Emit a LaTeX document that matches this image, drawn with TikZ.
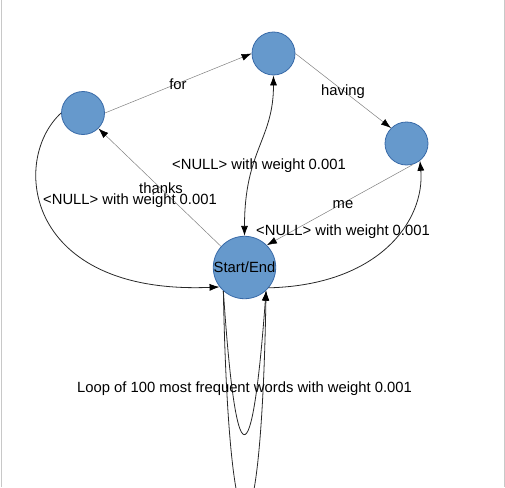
\documentclass[tikz,border=0pt]{standalone}
\usepackage{fontspec}
\setmainfont{Liberation Sans}
\usetikzlibrary{arrows.meta}
\definecolor{nodefill}{RGB}{102,153,204}
\definecolor{nodeline}{RGB}{56,106,168}
\definecolor{wordline}{RGB}{128,128,128}
\definecolor{nullline}{RGB}{40,40,40}
\definecolor{frameline}{RGB}{200,200,200}
\begin{document}
\begin{tikzpicture}[x=1pt,y=1pt,
  state/.style={circle, fill=nodefill, draw=nodeline, line width=0.8pt, minimum size=43pt, inner sep=0pt},
  startstate/.style={state, minimum size=57pt},
  tip/.style={Latex[length=10pt,width=7pt,color=black]},
  wordedge/.style={draw=wordline, line width=0.5pt, -{Latex[length=10pt,width=7pt,color=black]}},
  nulledge/.style={draw=nullline, line width=0.8pt, -{Latex[length=10pt,width=7pt,color=black]}},
  lbl/.style={font=\fontsize{14.8}{17}\selectfont, inner sep=0pt},
  framestyle/.style={draw=frameline, line width=1pt}]
\useasboundingbox (0,0) rectangle (505,-487);
% frame edges
\coordinate (fl1) at (1,0);
\coordinate (fl2) at (1,-487);
\coordinate (fr1) at (504,0);
\coordinate (fr2) at (504,-487);
\draw[framestyle] (fl1) -- (fl2);
\draw[framestyle] (fr1) -- (fr2);
% states
\node[state] (A) at (83,-113) {};
\node[state] (B) at (273.5,-53.5) {};
\node[state] (C) at (406.5,-143.5) {};
\node[startstate, font=\fontsize{14.8}{17}\selectfont] (S) at (244.5,-267.5) {Start/End};
% word edges
\draw[wordedge] (A.east) -- (B.west);
\draw[wordedge] (B.east) -- (C.135);
\draw[wordedge] (C.-72) -- (S.45);
\draw[wordedge] (S.138) -- (A.-45);
% null edges
\draw[nulledge, {Latex[length=10pt,width=7pt,color=black]}-{Latex[length=10pt,width=7pt,color=black]}]
  (B.south) .. controls (273.5,-140) and (244.5,-150) .. (S.north);
\draw[nulledge] (A.west) .. controls (10,-160) and (25,-295) .. (S.218);
\draw[nulledge] (S.-40) .. controls (380,-285) and (425,-220) .. (C.-52);
% loops
\draw[nulledge] (S.228) .. controls (236,-481) and (252,-481) .. (S.-47);
\draw[nulledge] (S.228) .. controls (229,-585) and (261,-585) .. (S.-47);
% labels
\node[lbl] (lfor) at (178,-84) {for};
\node[lbl] (lhaving) at (343,-92) {having};
\node[lbl] (lme) at (343,-205) {me};
\node[lbl] (lthanks) at (161,-188) {thanks};
\node[lbl] (lnullB) at (259,-166) {<NULL> with weight 0.001};
\node[lbl] (lnullA) at (130,-201) {<NULL> with weight 0.001};
\node[lbl] (lnullC) at (343,-232) {<NULL> with weight 0.001};
\node[lbl] (lloop) at (244.5,-389) {Loop of 100 most frequent words with weight 0.001};
\end{tikzpicture}
\end{document}
